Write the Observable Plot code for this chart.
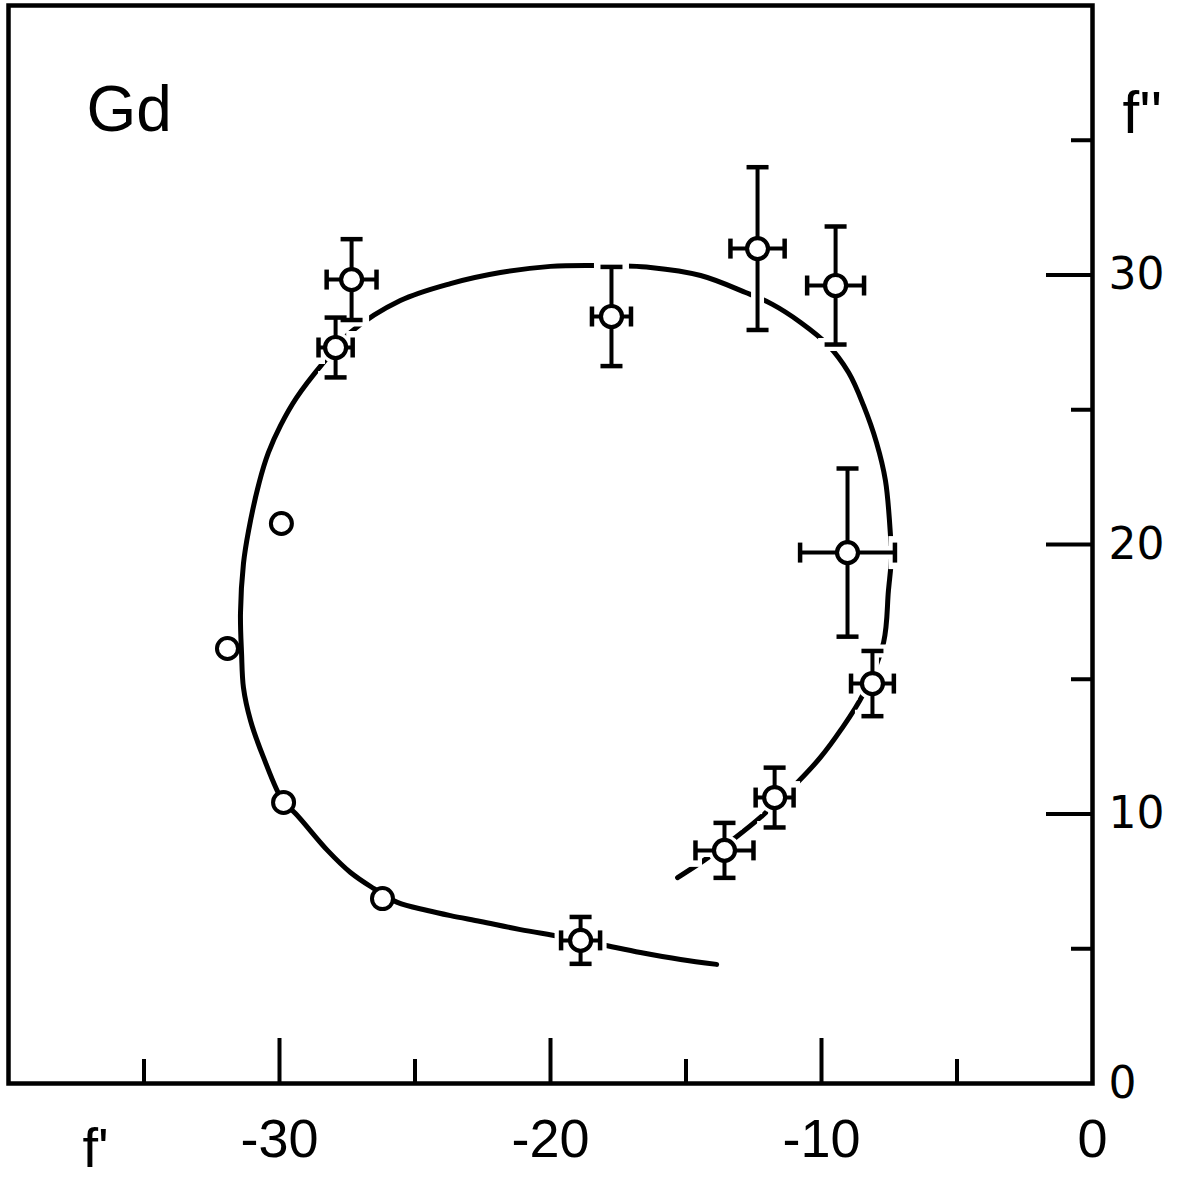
<!DOCTYPE html>
<html>
<head>
<meta charset="utf-8">
<script src="https://cdn.jsdelivr.net/npm/d3@7"></script>
<script src="https://cdn.jsdelivr.net/npm/@observablehq/plot@0.6"></script>
<style>
  html, body { margin: 0; padding: 0; background: #fff; }
  #chart svg { display: block; }
</style>
</head>
<body>
<div id="chart"></div>
<script>
// ---- Data ----
// fitted curve f' (x) and f'' (y)
const curveFp  = [-13.87,-15.20,-16.68,-18.15,-19.63,-21.11,-22.58,-23.69,-24.54,-25.65,-26.53,-27.38,-28.23,-29.41,-29.85,-30.59,-31.07,-31.33,-31.40,-31.44,-31.33,-31.14,-30.75,-30.41,-29.96,-29.37,-28.38,-27.38,-25.54,-23.69,-21.85,-20.00,-18.15,-16.31,-14.46,-12.80,-11.81,-10.77,-9.78,-9.00,-8.45,-7.97,-7.64,-7.45,-7.42,-7.53,-7.71,-8.45,-9.30,-10.04,-10.89,-12.18,-13.17,-14.35,-15.31];
const curveFpp = [4.42,4.60,4.86,5.16,5.45,5.71,6.01,6.23,6.42,6.72,7.24,7.83,8.65,10.02,10.43,12.10,13.47,14.69,15.96,17.44,19.29,20.52,22.30,23.41,24.42,25.45,26.75,27.87,29.05,29.68,30.09,30.32,30.35,30.28,29.98,29.35,28.91,28.24,27.42,26.38,25.16,23.78,22.37,20.26,19.52,18.29,16.36,14.47,13.10,12.10,11.17,9.94,9.13,8.27,7.64];

// measured points with error bars
const ptFp   = [-27.34,-27.93,-17.75,-12.36,-9.48,-9.04,-8.12,-11.73,-13.58,-18.89];
const ptFpp  = [29.83,27.31,28.46,30.98,29.61,19.70,14.84,10.61,8.65,5.31];
const errFp  = [0.92,0.63,0.72,1.00,1.05,1.75,0.79,0.70,1.07,0.72];
const errFpp = [1.50,1.11,1.84,3.02,2.19,3.12,1.21,1.11,1.02,0.87];

// points without error bars
const openFp  = [-29.93,-31.92,-29.85,-26.20];
const openFpp = [20.78,16.14,10.43,6.86];

// axes
const xMajor = [-30,-20,-10];
const xMinor = [-35,-25,-15,-5];
const xLabels = [-30,-20,-10,0];
const yMajor = [10,20,30];
const yMinor = [5,15,25,35];
const yLabels = [0,10,20,30];

// ---- Build tables ----
const curve = curveFp.map((x,i)=>({x, y: curveFpp[i]}));
const pts = ptFp.map((x,i)=>({x, y: ptFpp[i], ex: errFp[i], ey: errFpp[i]}));
const openPts = openFp.map((x,i)=>({x, y: openFpp[i]}));
const capsH = pts.flatMap(d=>[{x:d.x, y:d.y+d.ey},{x:d.x, y:d.y-d.ey}]);
const capsV = pts.flatMap(d=>[{x:d.x-d.ex, y:d.y},{x:d.x+d.ex, y:d.y}]);

// custom cap symbols (pixel sized)
const hCap = {draw(ctx, size){ const r = Math.sqrt(size/Math.PI); ctx.moveTo(-r,0); ctx.lineTo(r,0); }};
const vCap = {draw(ctx, size){ const r = Math.sqrt(size/Math.PI); ctx.moveTo(0,-r); ctx.lineTo(0,r); }};

const W = 1182, H = 1178, mL = 8, mR = 90, mT = 5, mB = 95;
const frameW = W - mL - mR, frameH = H - mT - mB;
const font = "Liberation Sans, Arial, sans-serif";

const chart = Plot.plot({
  width: W, height: H,
  marginLeft: mL, marginRight: mR, marginTop: mT, marginBottom: mB,
  style: {background: "white", color: "black"},
  x: {domain: [-40, 0], label: null},
  y: {domain: [0, 40], label: null},
  marks: [
    Plot.frame({stroke: "black", strokeWidth: 4.5}),
    // inward ticks
    Plot.ruleX(xMajor, {x: d=>d, insetTop: frameH - 45, stroke: "black", strokeWidth: 4}),
    Plot.ruleX(xMinor, {x: d=>d, insetTop: frameH - 24, stroke: "black", strokeWidth: 4}),
    Plot.ruleY(yMajor, {y: d=>d, insetLeft: frameW - 46, stroke: "black", strokeWidth: 4}),
    Plot.ruleY(yMinor, {y: d=>d, insetLeft: frameW - 21, stroke: "black", strokeWidth: 4}),
    // tick labels
    Plot.axisX({ticks: xLabels, tickFormat: d => String(d), anchor: "bottom", tickSize: 0, tickPadding: 35, fontSize: 54, fontFamily: font, label: null}),
    Plot.axisY({ticks: yLabels, tickFormat: d => String(d), anchor: "right", tickSize: 0, tickPadding: 16, fontSize: 44, fontFamily: "DejaVu Sans, sans-serif", label: null}),
    // curve
    Plot.line(curve, {x: "x", y: "y", curve: "catmull-rom", stroke: "black", strokeWidth: 5}),
    // white halos (gaps in the curve)
    Plot.ruleX(pts, {x: "x", y1: d=>d.y-d.ey, y2: d=>d.y+d.ey, stroke: "white", strokeWidth: 13}),
    Plot.ruleY(pts, {y: "y", x1: d=>d.x-d.ex, x2: d=>d.x+d.ex, stroke: "white", strokeWidth: 13}),
    Plot.dot(capsH, {x: "x", y: "y", symbol: hCap, r: 11, fill: "none", stroke: "white", strokeWidth: 13, strokeLinecap: "square"}),
    Plot.dot(capsV, {x: "x", y: "y", symbol: vCap, r: 10, fill: "none", stroke: "white", strokeWidth: 13, strokeLinecap: "square"}),
    Plot.dot(pts, {x: "x", y: "y", r: 16, fill: "white", stroke: "none"}),
    // error bars
    Plot.ruleX(pts, {x: "x", y1: d=>d.y-d.ey, y2: d=>d.y+d.ey, stroke: "black", strokeWidth: 4}),
    Plot.ruleY(pts, {y: "y", x1: d=>d.x-d.ex, x2: d=>d.x+d.ex, stroke: "black", strokeWidth: 4}),
    Plot.dot(capsH, {x: "x", y: "y", symbol: hCap, r: 11, fill: "none", stroke: "black", strokeWidth: 4.5}),
    Plot.dot(capsV, {x: "x", y: "y", symbol: vCap, r: 10, fill: "none", stroke: "black", strokeWidth: 4.5}),
    // circles
    Plot.dot(pts, {x: "x", y: "y", r: 10.5, fill: "white", stroke: "black", strokeWidth: 4.2}),
    Plot.dot(openPts, {x: "x", y: "y", r: 10.5, fill: "white", stroke: "black", strokeWidth: 4}),
    // annotations
    Plot.text(["Gd"], {frameAnchor: "top-left", dx: 78, dy: 80, textAnchor: "start", lineAnchor: "top", fontSize: 64, fontFamily: font, fill: "black"}),
    Plot.text(["f''"], {frameAnchor: "top-right", dx: 30, dy: 108, textAnchor: "start", lineAnchor: "middle", fontSize: 60, fontFamily: font, fill: "black"}),
    Plot.text(["f'"], {frameAnchor: "bottom-left", dx: 74, dy: 66, textAnchor: "start", lineAnchor: "middle", fontSize: 56, fontFamily: font, fill: "black"})
  ]
});
document.getElementById("chart").appendChild(chart);
</script>
</body>
</html>
